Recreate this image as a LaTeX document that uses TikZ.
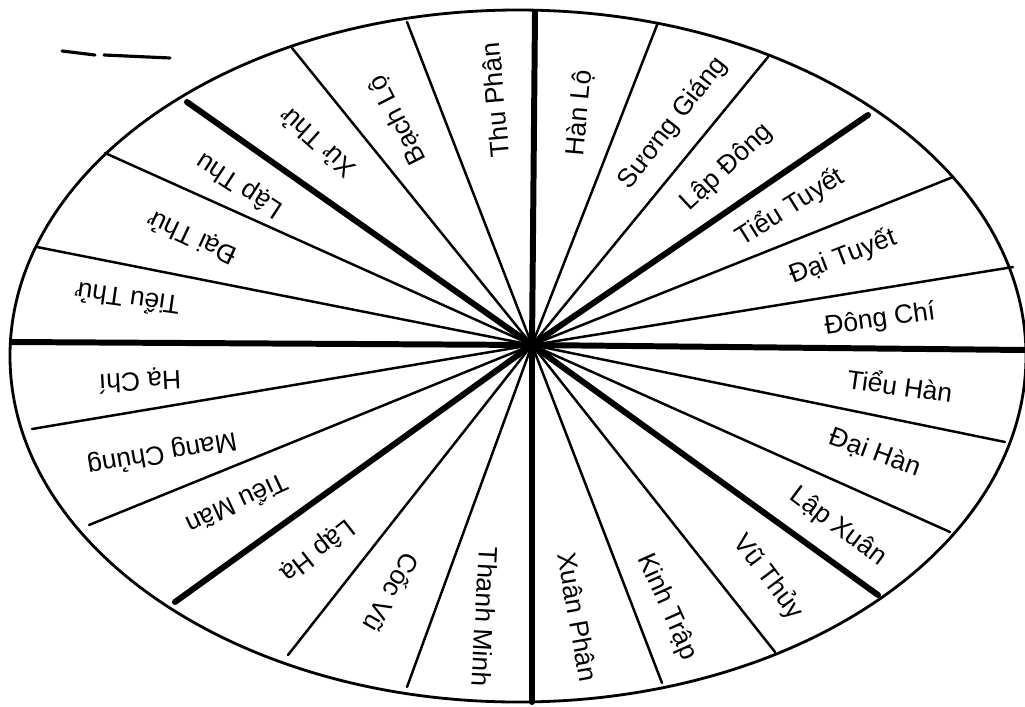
\documentclass[tikz,border=0pt]{standalone}
\usepackage{fontspec}
\setmainfont{Liberation Sans}
\begin{document}
\begin{tikzpicture}[x=0.01cm, y=-0.01cm, font=\fontsize{7.5}{9}\selectfont,
    termline/.style={line width=0.7pt, line cap=round},
    seasonline/.style={line width=1.7pt, line cap=round},
    termlabel/.style={inner sep=0pt, anchor=center}]
\useasboundingbox (0,0) rectangle (1025,706);

% --- THE WHEEL ---
    \coordinate (hub) at (532,345);
    \draw[line width=0.8pt] (518,356) ellipse [x radius=508, y radius=346];

% stray pen mark, top left
    \draw[line width=0.9pt, line cap=round] (62,51) -- (95,55);
    \draw[line width=0.9pt, line cap=round] (104,55) -- (170,58);

% --- THE 24 BOUNDARIES ---

% thin lines between terms
    \foreach \px/\py in {657/25, 768/57, 953/177, 1013/267, 1005/442, 950/532,
        775/652, 662/683, 407/687, 288/655, 89/525, 32/429,
        37/247, 105/153, 292/48, 407/22}
    \draw[termline] (hub) -- (\px,\py);

% thick lines: solstices, equinoxes and the four "Lập"
    \foreach \px/\py in {535/12, 868/115, 1025/350, 878/595,
        532/702, 175/602, 12/342, 187/102}
    \draw[seasonline] (hub) -- (\px,\py);

% --- THE TERMS (read outward from the hub) ---
    \foreach \px/\py/\ang/\term [count=\i] in {
        580/113/85/Hàn Lộ, 673/123/52/Sương Giáng, 727/167/43/Lập Đông,
        790/207/32/Tiểu Tuyết, 843/257/21/Đại Tuyết, 880/320/8/Đông Chí,
        900/385/-8/Tiểu Hàn, 875/453/-20/Đại Hàn, 838/527/-37/Lập Xuân,
        768/577/-53/Vũ Thủy, 667/607/-66/Kinh Trập, 578/617/-80/Xuân Phân,
        485/617/-93/Thanh Minh, 392/593/-120/Cốc Vũ, 317/550/-142/Lập Hạ,
        238/505/-155/Tiểu Mãn, 162/453/-170/Mang Chủng, 140/380/-177/Hạ Chí,
        127/300/172/Tiểu Thử, 192/237/155/Đại Thử, 240/185/147/Lập Thu,
        317/143/138/Xử Thử, 398/120/117/Bạch Lộ, 495/100/95/Thu Phân}
    \node[termlabel, rotate=\ang] (term\i) at (\px,\py) {\term};

\end{tikzpicture}
\end{document}
